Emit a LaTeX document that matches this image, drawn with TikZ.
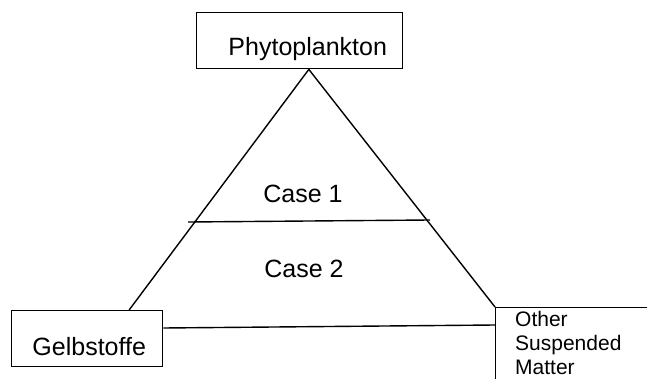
\documentclass[tikz,border=0pt]{standalone}
\usepackage{fontspec}
\setmainfont{Liberation Sans}
\usetikzlibrary{calc,positioning}

\begin{document}
\begin{tikzpicture}[x=1pt,y=-1pt,
  box/.style={draw,rectangle,line width=1.4pt,inner sep=0pt},
  link/.style={line width=1.4pt},
  big/.style={font=\fontsize{25}{30}\selectfont},
  small/.style={font=\fontsize{21}{24}\selectfont}]
\clip (0,0) rectangle (647,379);
% the three corners
\node[box,big,anchor=north west,minimum width=206pt,text height=43pt,text depth=13pt] (phyto) at (196,12) {\hspace*{16pt}Phytoplankton};
\node[box,big,anchor=north west,minimum width=151pt,text height=45pt,text depth=11pt] (gelb) at (11,310) {\hspace*{4pt}Gelbstoffe};
\node[box,anchor=north west,minimum width=180pt,minimum height=100pt] (other) at (495,307) {};
\node[small,align=left,anchor=north west,inner sep=0pt] (othertext) at (515,311) {Other\\Suspended\\Matter};
% triangle
\coordinate (apex) at ($(phyto.south west)!0.544!(phyto.south east)$);
\coordinate (gelbtop) at ($(gelb.north west)!0.775!(gelb.north east)$);
\draw[link] (gelbtop) -- (apex) -- (other.north west);
\draw[link] ($(gelb.north east)+(0,18)$) -- ($(other.north west)+(0,18)$);
% case 1 / case 2 split
\coordinate (caseL) at (188,222);
\coordinate (caseR) at (430,220);
\draw[link] (caseL) -- (caseR);
\node[big,anchor=base] (case1) at (303,203) {Case 1};
\node[big,anchor=base] (case2) at (304,277) {Case 2};
\end{tikzpicture}
\end{document}
